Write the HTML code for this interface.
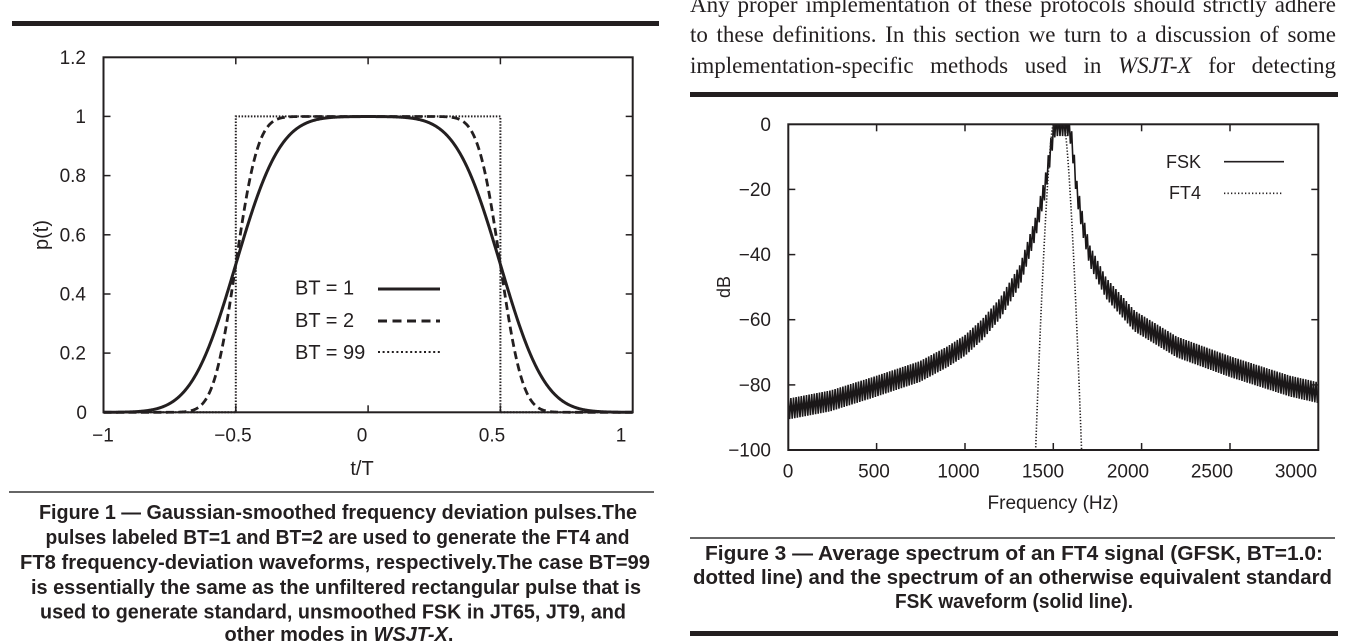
<!DOCTYPE html>
<html><head><meta charset="utf-8">
<style>
html,body{margin:0;padding:0;background:#fff;width:1346px;height:644px;overflow:hidden;position:relative;}
svg{display:block;position:absolute;left:0;top:0;}
.t{font-family:"Liberation Sans",Arial,sans-serif;fill:#231f20;}
.c{font-family:"Liberation Sans",Arial,sans-serif;font-weight:bold;fill:#231f20;font-size:20px;}
.p{position:absolute;left:690px;width:646px;font-family:"Liberation Serif","Times New Roman",serif;font-size:23px;line-height:23px;color:#231f20;text-align:justify;text-align-last:justify;white-space:normal;}
</style></head><body>
<svg width="1346" height="644" viewBox="0 0 1346 644" xmlns="http://www.w3.org/2000/svg">
<defs>
<clipPath id="cl2"><rect x="788.3" y="124.3" width="530" height="325.7"/></clipPath>
</defs>
<!-- rules -->
<rect x="12" y="21" width="647" height="5" fill="#231f20"/>
<rect x="690" y="92" width="648" height="5" fill="#231f20"/>
<rect x="690" y="631" width="648" height="5" fill="#231f20"/>
<line x1="9" y1="492" x2="654" y2="492" stroke="#333" stroke-width="1.5"/>
<line x1="690" y1="538" x2="1335" y2="538" stroke="#333" stroke-width="1.5"/>

<!-- LEFT CHART -->
<g stroke="#231f20" stroke-width="1.5">
<line x1="235.8" y1="412.3" x2="235.8" y2="405.3"/><line x1="368.1" y1="412.3" x2="368.1" y2="405.3"/><line x1="500.4" y1="412.3" x2="500.4" y2="405.3"/>
<line x1="235.8" y1="57.3" x2="235.8" y2="64.3"/><line x1="368.1" y1="57.3" x2="368.1" y2="64.3"/><line x1="500.4" y1="57.3" x2="500.4" y2="64.3"/>
<line x1="103.5" y1="353.1" x2="110.5" y2="353.1"/><line x1="103.5" y1="294.0" x2="110.5" y2="294.0"/><line x1="103.5" y1="234.8" x2="110.5" y2="234.8"/><line x1="103.5" y1="175.6" x2="110.5" y2="175.6"/><line x1="103.5" y1="116.4" x2="110.5" y2="116.4"/>
<line x1="632.7" y1="353.1" x2="625.7" y2="353.1"/><line x1="632.7" y1="294.0" x2="625.7" y2="294.0"/><line x1="632.7" y1="234.8" x2="625.7" y2="234.8"/><line x1="632.7" y1="175.6" x2="625.7" y2="175.6"/><line x1="632.7" y1="116.4" x2="625.7" y2="116.4"/>
</g>
<path id="bt99" d="M103.5,412.3L235.8,412.3L235.8,116.4L500.4,116.4L500.4,412.3L632.7,412.3" fill="none" stroke="#231f20" stroke-width="2" stroke-dasharray="1.5 1.6"/>
<path id="bt2" d="" fill="none" stroke="#231f20" stroke-width="2.8" stroke-dasharray="8 4.5"/>
<path id="bt1" d="" fill="none" stroke="#231f20" stroke-width="3"/>
<rect x="103.5" y="57.3" width="529.2" height="355" fill="none" stroke="#231f20" stroke-width="2"/>

<g class="t" font-size="19" text-anchor="end">
<text x="86" y="63.8">1.2</text>
<text x="86" y="122.9">1</text>
<text x="86" y="182.1">0.8</text>
<text x="86" y="241.3">0.6</text>
<text x="86" y="300.5">0.4</text>
<text x="86" y="359.6">0.2</text>
<text x="87" y="418.8">0</text>
</g>
<g class="t" font-size="19" text-anchor="middle">
<text x="103" y="441.5">−1</text>
<text x="233" y="441.5">−0.5</text>
<text x="362" y="441.5">0</text>
<text x="492" y="441.5">0.5</text>
<text x="621" y="441.5">1</text>
</g>
<text class="t" font-size="20" x="362" y="475" text-anchor="middle">t/T</text>
<text class="t" font-size="20" text-anchor="middle" transform="translate(48,235) rotate(-90)">p(t)</text>

<!-- left legend -->
<g class="t" font-size="20">
<text x="295" y="294.5">BT = 1</text>
<text x="295" y="327">BT = 2</text>
<text x="295" y="359">BT = 99</text>
</g>
<line x1="378" y1="289" x2="440" y2="289" stroke="#231f20" stroke-width="3"/>
<line x1="378" y1="321" x2="440" y2="321" stroke="#231f20" stroke-width="3" stroke-dasharray="9 5.5"/>
<line x1="378" y1="352" x2="440" y2="352" stroke="#231f20" stroke-width="2" stroke-dasharray="2 2.6"/>

<!-- RIGHT CHART -->
<g clip-path="url(#cl2)">
<path id="fsk" d="" fill="none" stroke="#1a1718" stroke-width="1.6"/>
<path id="ft4" d="" fill="none" stroke="#231f20" stroke-width="1.6" stroke-dasharray="1.3 1.8"/>
</g>
<g stroke="#231f20" stroke-width="1.5">
<line x1="876.6" y1="450" x2="876.6" y2="443"/><line x1="965" y1="450" x2="965" y2="443"/><line x1="1053.3" y1="450" x2="1053.3" y2="443"/><line x1="1141.6" y1="450" x2="1141.6" y2="443"/><line x1="1230" y1="450" x2="1230" y2="443"/>
<line x1="876.6" y1="124.3" x2="876.6" y2="131.3"/><line x1="965" y1="124.3" x2="965" y2="131.3"/><line x1="1053.3" y1="124.3" x2="1053.3" y2="131.3"/><line x1="1141.6" y1="124.3" x2="1141.6" y2="131.3"/><line x1="1230" y1="124.3" x2="1230" y2="131.3"/>
<line x1="788.3" y1="189.4" x2="795.3" y2="189.4"/><line x1="788.3" y1="254.6" x2="795.3" y2="254.6"/><line x1="788.3" y1="319.7" x2="795.3" y2="319.7"/><line x1="788.3" y1="384.9" x2="795.3" y2="384.9"/>
<line x1="1318.3" y1="189.4" x2="1311.3" y2="189.4"/><line x1="1318.3" y1="254.6" x2="1311.3" y2="254.6"/><line x1="1318.3" y1="319.7" x2="1311.3" y2="319.7"/><line x1="1318.3" y1="384.9" x2="1311.3" y2="384.9"/>
</g>
<rect x="788.3" y="124.3" width="530" height="325.7" fill="none" stroke="#231f20" stroke-width="2"/>

<g class="t" font-size="19" text-anchor="end">
<text x="771" y="130.8">0</text>
<text x="771" y="195.9">−20</text>
<text x="771" y="261.1">−40</text>
<text x="771" y="326.2">−60</text>
<text x="771" y="391.4">−80</text>
<text x="771" y="456.5">−100</text>
</g>
<g class="t" font-size="19" text-anchor="middle">
<text x="788" y="477.5">0</text>
<text x="874" y="477.5">500</text>
<text x="958.5" y="477.5">1000</text>
<text x="1043" y="477.5">1500</text>
<text x="1128" y="477.5">2000</text>
<text x="1212" y="477.5">2500</text>
<text x="1296" y="477.5">3000</text>
</g>
<text class="t" font-size="19" x="1053" y="509" text-anchor="middle">Frequency (Hz)</text>
<text class="t" font-size="18" text-anchor="middle" transform="translate(730,287) rotate(-90)">dB</text>

<!-- right legend -->
<g class="t" font-size="18" text-anchor="end">
<text x="1201" y="168">FSK</text>
<text x="1201" y="199">FT4</text>
</g>
<line x1="1224" y1="161.7" x2="1284" y2="161.7" stroke="#231f20" stroke-width="1.6"/>
<line x1="1224" y1="193.3" x2="1282" y2="193.3" stroke="#231f20" stroke-width="1.6" stroke-dasharray="1.3 2.2"/>

<!-- LEFT CAPTION -->
<g class="c" text-anchor="middle">
<text x="338" y="519" textLength="598" lengthAdjust="spacingAndGlyphs">Figure 1 — Gaussian-smoothed frequency deviation pulses.The</text>
<text x="337.5" y="544" textLength="584" lengthAdjust="spacingAndGlyphs">pulses labeled BT=1 and BT=2 are used to generate the FT4 and</text>
<text x="335" y="569" textLength="630" lengthAdjust="spacingAndGlyphs">FT8 frequency-deviation waveforms, respectively.The case BT=99</text>
<text x="336" y="594" textLength="610" lengthAdjust="spacingAndGlyphs">is essentially the same as the unfiltered rectangular pulse that is</text>
<text x="333" y="618.5" textLength="586" lengthAdjust="spacingAndGlyphs">used to generate standard, unsmoothed FSK in JT65, JT9, and</text>
<text x="339" y="641">other modes in <tspan font-style="italic">WSJT-X</tspan>.</text>
</g>

<!-- RIGHT CAPTION -->
<g class="c" text-anchor="middle">
<text x="1014" y="560" textLength="618" lengthAdjust="spacingAndGlyphs">Figure 3 — Average spectrum of an FT4 signal (GFSK, BT=1.0:</text>
<text x="1012.5" y="584" textLength="639" lengthAdjust="spacingAndGlyphs">dotted line) and the spectrum of an otherwise equivalent standard</text>
<text x="1014" y="608" textLength="238" lengthAdjust="spacingAndGlyphs">FSK waveform (solid line).</text>
</g>
</svg>

<div class="p" style="top:-7.3px;">Any proper implementation of these protocols should strictly adhere</div>
<div class="p" style="top:23.2px;">to these definitions. In this section we turn to a discussion of some</div>
<div class="p" style="top:53.7px;">implementation-specific methods used in <i>WSJT-X</i> for detecting</div>

<script>
(function(){
function erf(x){var s=x<0?-1:1;x=Math.abs(x);var t=1/(1+0.3275911*x);var y=1-((((1.061405429*t-1.453152027)*t+1.421413741)*t-0.284496736)*t+0.254829592)*t*Math.exp(-x*x);return s*y;}
var c=Math.PI*Math.sqrt(2/Math.log(2));
function pulse(t,b){return 0.5*(erf(c*b*(t+0.5))-erf(c*b*(t-0.5)));}
function X1(t){return 103.5+(t+1)*264.6;}
function Y1(p){return 412.3-p*295.8;}
function mk(b){var d="";for(var i=0;i<=1000;i++){var t=-1+i/500;d+=(i?"L":"M")+X1(t).toFixed(2)+","+Y1(pulse(t,b)).toFixed(2);}return d;}
document.getElementById("bt1").setAttribute("d",mk(1));
document.getElementById("bt2").setAttribute("d",mk(2));

function X2(f){return 788.3+f*530/3000;}
function Y2(db){return 124.3-db*325.7/100;}
var env=[[0,-87],[240,-84.5],[500,-80],[745,-75.5],[900,-71],[1000,-67.5],[1100,-62.5],[1200,-56],[1311,-46],[1396,-32],[1453,-19],[1492,-5],[1510,0],[1585,0],[1600,-3],[1615,-10],[1633,-20],[1665,-30],[1707,-40],[1800,-50],[1960,-60],[2200,-68],[2500,-74],[2840,-80],[3000,-82]];
function E(f){for(var i=0;i<env.length-1;i++){if(f<=env[i+1][0]){var a=env[i],b=env[i+1];return a[1]+(b[1]-a[1])*(f-a[0])/(b[0]-a[0]);}}return env[env.length-1][1];}
var d="",k=0,P=2.6;
for(var x=788.3;x<=1318.4;x+=P/2){var f=(x-788.3)*3000/530;var e=E(f);var db=(k%2==0)?e+2.8:e-3.6;d+=(k?"L":"M")+x.toFixed(2)+","+Y2(db).toFixed(2);k++;}
document.getElementById("fsk").setAttribute("d",d);

var d3="",first=true;
for(var f=1385;f<=1675;f+=1){var dd=Math.abs(f-1530)-30;var db=dd<=0?-0.5:-100*Math.pow(dd/100,1.5);if(db<-104)continue;d3+=(first?"M":"L")+X2(f).toFixed(2)+","+Y2(db).toFixed(2);first=false;}
document.getElementById("ft4").setAttribute("d",d3);
})();
</script>
</body></html>
